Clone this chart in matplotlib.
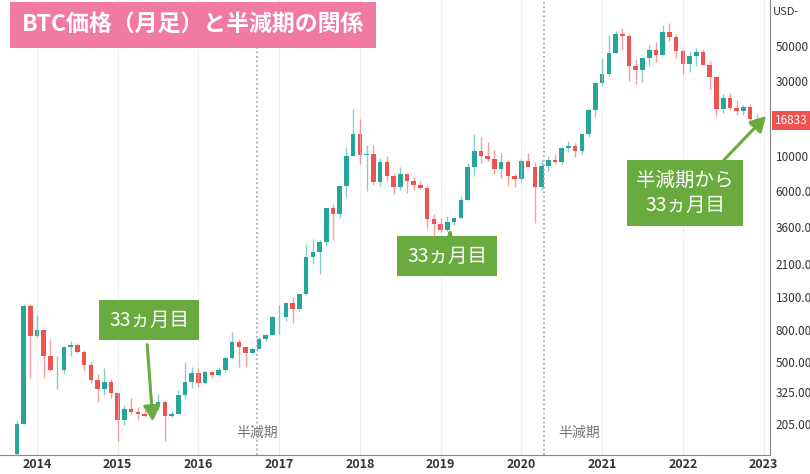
import matplotlib
matplotlib.use("Agg")
import matplotlib.pyplot as plt
import numpy as np

plt.rcParams['font.family'] = ['Noto Sans CJK JP', 'DejaVu Sans']

start_month = -3  # Oct 2013 (0 = Jan 2014)
ohlc = [
(132,215,110,204),(204,1163,205,1130),(1130,1163,400,732),
(732,1000,720,800),(800,800,400,550),(550,700,440,445),(445,545,340,445),(445,630,420,628),(628,680,550,640),
(640,660,570,585),(585,600,440,480),(480,510,370,386),(386,420,280,340),(340,460,310,375),(375,390,300,320),
(320,320,160,215),(215,270,200,254),(254,300,235,244),(244,260,215,236),(236,250,225,230),(230,270,220,263),
(263,315,250,283),(283,285,160,230),(230,245,225,236),(236,335,235,313),(313,500,300,378),(378,465,345,430),
(430,460,350,368),(368,440,365,437),(437,440,400,416),(416,465,410,448),(448,550,435,531),(531,780,525,673),
(673,700,470,624),(624,625,470,575),(575,620,570,608),(608,720,605,700),(700,760,680,745),(745,975,745,965),
(965,1150,750,970),(970,1200,915,1190),(1190,1300,890,1080),(1080,1350,1060,1350),(1350,2800,1340,2300),(2300,3000,2100,2480),
(2480,2950,1800,2870),(2870,4750,2700,4700),(4700,5000,2950,4340),(4340,6450,4100,6450),(6450,11400,5500,10000),(10000,19800,10000,13850),
(13850,17200,9000,10200),(10200,11800,6000,10300),(10300,11700,6600,6930),(6930,9800,6500,9240),(9240,10000,7000,7500),(7500,7800,5800,6390),
(6390,8500,6100,7730),(7730,7800,5880,7030),(7030,7400,6100,6630),(6630,7000,6200,6310),(6310,6600,3500,4020),(4020,4300,3150,3740),
(3740,4100,3350,3450),(3450,4200,3400,3850),(3850,4100,3700,4100),(4100,5600,4060,5320),(5320,9100,5300,8570),(8570,13900,7500,10820),
(10820,13200,9100,10080),(10080,12300,9300,9590),(9590,10900,7700,8290),(8290,10500,7300,9150),(9150,9500,6500,7560),(7560,7750,6400,7190),
(7190,9550,6900,9350),(9350,10500,8500,8540),(8540,9200,3800,6420),(6420,9450,6150,8630),(8630,10050,8100,9450),(9450,10400,8900,9140),
(9140,11450,8950,11350),(11350,12450,10600,11650),(11650,12100,9850,10780),(10780,14100,10400,13800),(13800,19900,13200,19700),(19700,29300,17600,28950),
(28950,41900,28100,33100),(33100,58300,32300,45200),(45200,61700,45000,58800),(58800,64800,47000,57700),(57700,59500,30000,37300),(37300,41300,28800,35000),
(35000,42400,29300,41500),(41500,50500,37300,47100),(47100,52900,39600,43800),(43800,67000,43300,61300),(61300,69000,53300,57000),(57000,59100,42000,46200),
(46200,47900,32900,38500),(38500,45800,34300,43200),(43200,48200,37200,45500),(45500,47400,37600,37700),(37700,40000,26700,31800),(31800,31900,17600,19900),
(19900,24700,18800,23300),(23300,25200,19600,20050),(20050,22800,18200,19400),(19400,21100,18200,20500),(20500,21500,15500,17150),(17150,18400,16300,16833),
]
years = [2014, 2015, 2016, 2017, 2018, 2019, 2020, 2021, 2022, 2023]
yticks = [205, 325, 500, 800, 1300, 2100, 3600, 6000, 10000, 30000, 50000]
ytick_labels = ['205.00', '325.00', '500.00', '800.00', '1300.00', '2100.00', '3600.00', '6000.00', '10000', '30000', '50000']
halvings = [32.7, 75.3]
halving_label_x = [32.7, 80.6]
last_price = 16833

fig = plt.figure(figsize=(8.1, 4.74), dpi=100)
ax = fig.add_axes([0, 0.04, 0.951, 0.96])
GREEN, RED = '#26a69a', '#ef5350'
for i, (o, h, l, c) in enumerate(ohlc):
    x = start_month + i
    col = GREEN if c >= o else RED
    ax.vlines(x, l, h, color=col, alpha=0.55, lw=1)
    ax.bar(x, abs(c - o) if abs(c-o) > 0 else 1, bottom=min(o, c), width=0.68, color=col, lw=0)

ax.set_yscale('log')
ax.set_ylim(130, 97000)
ax.set_xlim(-5.5, 109)
ax.set_xticks([(y - 2014) * 12 for y in years])
ax.set_xticklabels([str(y) for y in years], fontsize=9, color='#333333', fontweight='bold')
ax.yaxis.tick_right()
ax.set_yticks(yticks)
ax.set_yticklabels(ytick_labels, fontsize=8.5, color='#333333')
ax.yaxis.set_minor_locator(matplotlib.ticker.NullLocator())
ax.tick_params(axis='x', length=0, pad=2)
ax.tick_params(axis='y', length=0, pad=4)
ax.grid(axis='x', color='#eeeeee', lw=0.8)
for s in ['top', 'left']:
    ax.spines[s].set_visible(False)
ax.spines['right'].set_color('#888888')
ax.spines['bottom'].set_color('#888888')

for hx, lx in zip(halvings, halving_label_x):
    ax.axvline(hx, color='#aaaaaa', ls=(0, (1, 1.5)), lw=1.3)
    ax.text(lx, 180, '半減期', fontsize=10, color='#777777', ha='center', va='center')

ax.text(1.003, 0.985, 'USD-', transform=ax.transAxes, fontsize=8, color='#333333', va='top')
ax.annotate(f'{last_price}', xy=(1.0, last_price), xycoords=('axes fraction', 'data'),
            xytext=(3, 0), textcoords='offset points', fontsize=8.5, color='white', va='center',
            bbox=dict(boxstyle='square,pad=0.25', fc='#ef5350', ec='none'), annotation_clip=False)

fig.text(0.027, 0.947, 'BTC価格（月足）と半減期の関係', fontsize=16.5, color='white', fontweight='bold',
         va='center', ha='left',
         bbox=dict(boxstyle='square,pad=0.5', fc='#f07aa0', ec='none'))

GBOX = '#6aab3f'
def gbox(text, xy_txt, xy_arrow_start, xy_arrow_end):
    fig.text(*xy_txt, text, fontsize=14, color='white', ha='center', va='center', linespacing=1.3,
             bbox=dict(boxstyle='square,pad=0.5', fc=GBOX, ec='none'))
    fig.add_artist(matplotlib.patches.FancyArrowPatch(xy_arrow_start, xy_arrow_end, transform=fig.transFigure,
                   arrowstyle='-|>,head_width=5,head_length=9', color=GBOX, lw=2.2))

W, H = 810, 474
gbox('33ヵ月目', (149/W, 1-320/H), (147/W, 1-342/H), (153/W, 1-424/H))
gbox('33ヵ月目', (447/W, 1-256/H), (450/W, 1-236/H), (450/W, 1-228/H))
gbox('半減期から\n33ヵ月目', (685/W, 1-193/H), (722/W, 1-162/H), (768/W, 1-114/H))

fig.savefig('out.png', dpi=100)
